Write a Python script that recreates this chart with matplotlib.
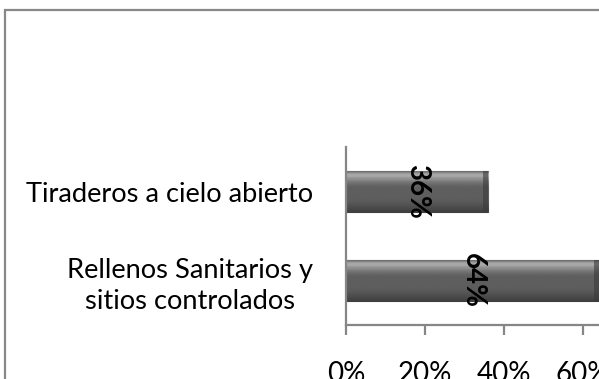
import matplotlib
matplotlib.use("Agg")
import matplotlib.pyplot as plt
import numpy as np
from matplotlib.patches import Rectangle

categories = ["Rellenos Sanitarios y\nsitios controlados", "Tiraderos a cielo abierto"]
values = [0.64, 0.36]
tick_vals = [0.0, 0.2, 0.4, 0.6, 0.8, 1.0]
tick_labels = ["0%", "20%", "40%", "60%", "80%", "100%"]
data_labels = ["64%", "36%"]

W, H = 599, 379
fig = plt.figure(figsize=(W / 100, H / 100), dpi=100)
plt.rcParams['font.family'] = ['Lato', 'DejaVu Sans']

# outer chart border (only left/top visible)
fig.patches.append(Rectangle((5 / W, -0.1), 2.0, 1 - 10 / H + 0.1,
                             transform=fig.transFigure, fill=False,
                             edgecolor="#888888", linewidth=1.6))

left = 346 / W
bottom = 1 - 325 / H
height = (325 - 147) / H
width = 395 / W
ax = fig.add_axes([left, bottom, width, height])

bar_h = 0.45
ypos = np.arange(len(categories))

# vertical gradient profile (top -> bottom)
profile = np.array([0x70, 0x9a, 0xab, 0xa5, 0x92, 0x8c, 0x7c, 0x72, 0x6a,
                    0x62, 0x5f, 0x5e, 0x5e, 0x5e, 0x5e, 0x5e, 0x5e, 0x5d,
                    0x5c, 0x5a, 0x56, 0x52, 0x4e, 0x4a, 0x45, 0x40]) / 255.0
img = np.repeat(profile[:, None], 2, axis=1)
img = np.dstack([img, img, img])

bars = ax.barh(ypos, values, height=bar_h, color="#5e5e5e",
               edgecolor="#404040", linewidth=0.8, zorder=2, clip_on=False)
for b in bars:
    x0, y0 = b.get_x(), b.get_y()
    w, h = b.get_width(), b.get_height()
    im = ax.imshow(img, extent=(x0, x0 + w, y0, y0 + h), aspect="auto",
                   interpolation="bilinear", zorder=2.5, origin="upper")
    im.set_clip_path(b)
    # darker right end
    ax.add_patch(Rectangle((x0 + w - 0.012, y0), 0.012, h, facecolor="#3a3a3a",
                           edgecolor="none", alpha=0.6, zorder=2.6))
ax.set_xlim(0, 1)
ax.set_ylim(-0.5, 1.5)

for y, v, lab in zip(ypos, values, data_labels):
    ax.text(v / 2, y, lab, rotation=270, ha="center", va="center",
            fontsize=20, fontweight="bold", color="black", zorder=3)

for s in ["top", "right"]:
    ax.spines[s].set_visible(False)
for s in ["left", "bottom"]:
    ax.spines[s].set_color("#868686")
    ax.spines[s].set_linewidth(1.6)

ax.set_yticks(ypos)
ax.set_yticklabels(categories, fontsize=19.6, ha="right", multialignment="center",
                   linespacing=1.3)
ax.tick_params(axis="y", length=0, pad=24)

ax.set_xticks(tick_vals)
ax.set_xticklabels(tick_labels, fontsize=20)
ax.tick_params(axis="x", length=7, width=1.6, color="#868686", direction="out", pad=19)

fig.savefig("out.png", dpi=100)
